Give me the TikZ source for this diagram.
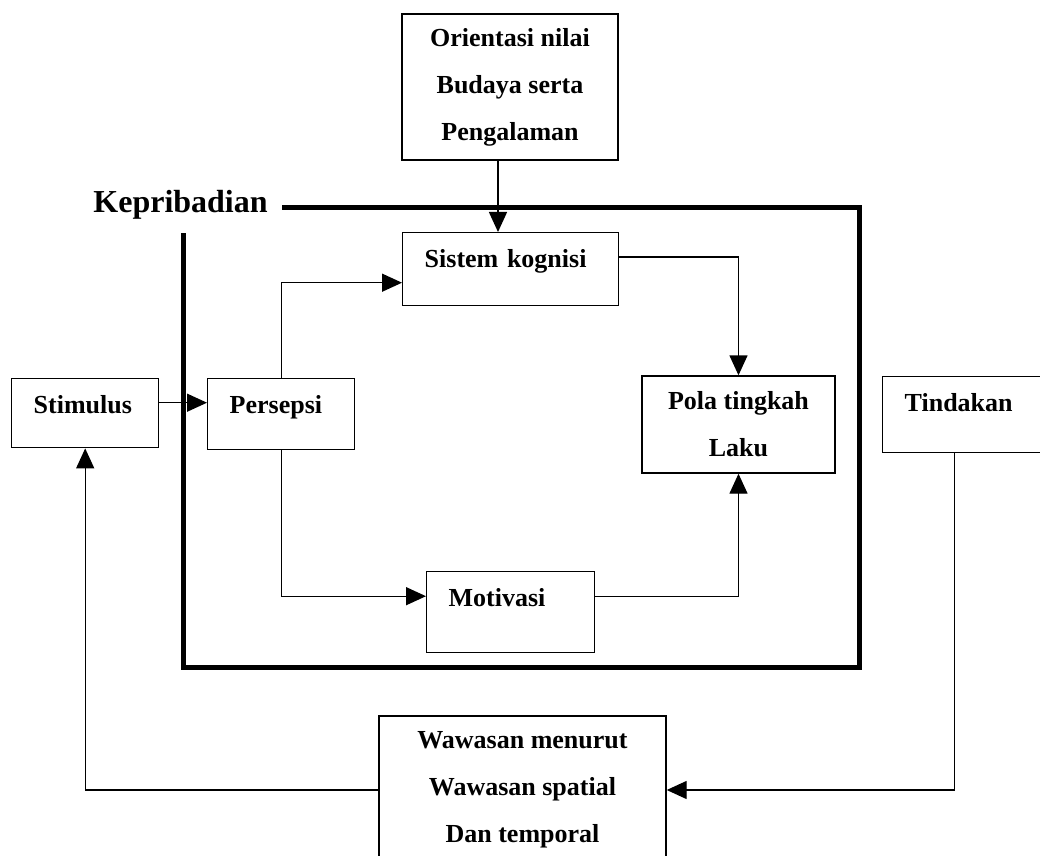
\documentclass[tikz,border=0pt]{standalone}
\usepackage{fontspec}
\setmainfont{Liberation Serif}
\usetikzlibrary{arrows.meta}

\begin{document}
\begin{tikzpicture}[
        x=0.5pt, y=-0.5pt,
        kotak/.style={draw, line width=0.7pt, font=\bfseries\fontsize{13}{23.5}\selectfont},
        kotakkiri/.style={kotak, anchor=north west, inner xsep=11pt, inner ysep=0pt, align=left, text height=17.5pt},
        kotaktengah/.style={kotak, align=center, inner sep=0pt},
        panah/.style={draw, line width=0.7pt, -{Triangle[length=10pt,width=9pt]}},
        bingkai/.style={draw, line width=2.5pt, line join=miter},
    ]
    \useasboundingbox (0,0) rectangle (1040,856);
    \node[kotaktengah, minimum width=108pt, minimum height=73pt](orientasi) at (510,87){Orientasi nilai\\Budaya serta\\Pengalaman};
    \node[kotakkiri, text width=86pt, text depth=19pt](sistem) at (402,232){Sistem kognisi};
    \node[kotakkiri, text width=51.5pt, text depth=17pt](stimulus) at (11,378){Stimulus};
    \node[kotakkiri, text width=51.5pt, text depth=18pt](persepsi) at (207,378){Persepsi};
    \node[kotaktengah, minimum width=96.5pt, minimum height=48.5pt](pola) at (738.5,424.5){Pola tingkah\\Laku};
    \node[kotakkiri, text width=58pt, text depth=20.5pt](tindakan) at (882,376){Tindakan};
    \node[kotakkiri, text width=62pt, text depth=23pt](motivasi) at (426,571){Motivasi};
    \node[kotaktengah, minimum width=143.5pt, minimum height=74pt](wawasan) at (522.5,790){Wawasan menurut\\Wawasan spatial\\Dan temporal};
    \node[anchor=base west, inner sep=0pt, font=\bfseries\fontsize{16}{19}\selectfont](kepribadian) at (93,213){Kepribadian};

    \draw[panah] ([xshift=-6pt]orientasi.south) -- ([xshift=-6pt]orientasi.south |- sistem.north);
    \draw[panah] ([yshift=6pt]sistem.east) -| (pola.north);
    \draw[panah] (persepsi.north) |- ([yshift=-6.75pt]sistem.west);
    \draw[panah] (persepsi.south) |- ([yshift=8pt]motivasi.west);
    \draw[panah] ([yshift=8pt]motivasi.east) -| (pola.south);
    \draw[panah] ([yshift=5.25pt]stimulus.east) -- ([yshift=5.25pt]stimulus.east -| persepsi.west);
    \draw[panah] ([xshift=-4pt]tindakan.south) |- (wawasan.east);
    \draw[panah] (wawasan.west) -| (stimulus.south);

    \draw[bingkai] (282,208) -- (859,208) -- (859,667) -- (183,667) -- (183,233);
\end{tikzpicture}
\end{document}
